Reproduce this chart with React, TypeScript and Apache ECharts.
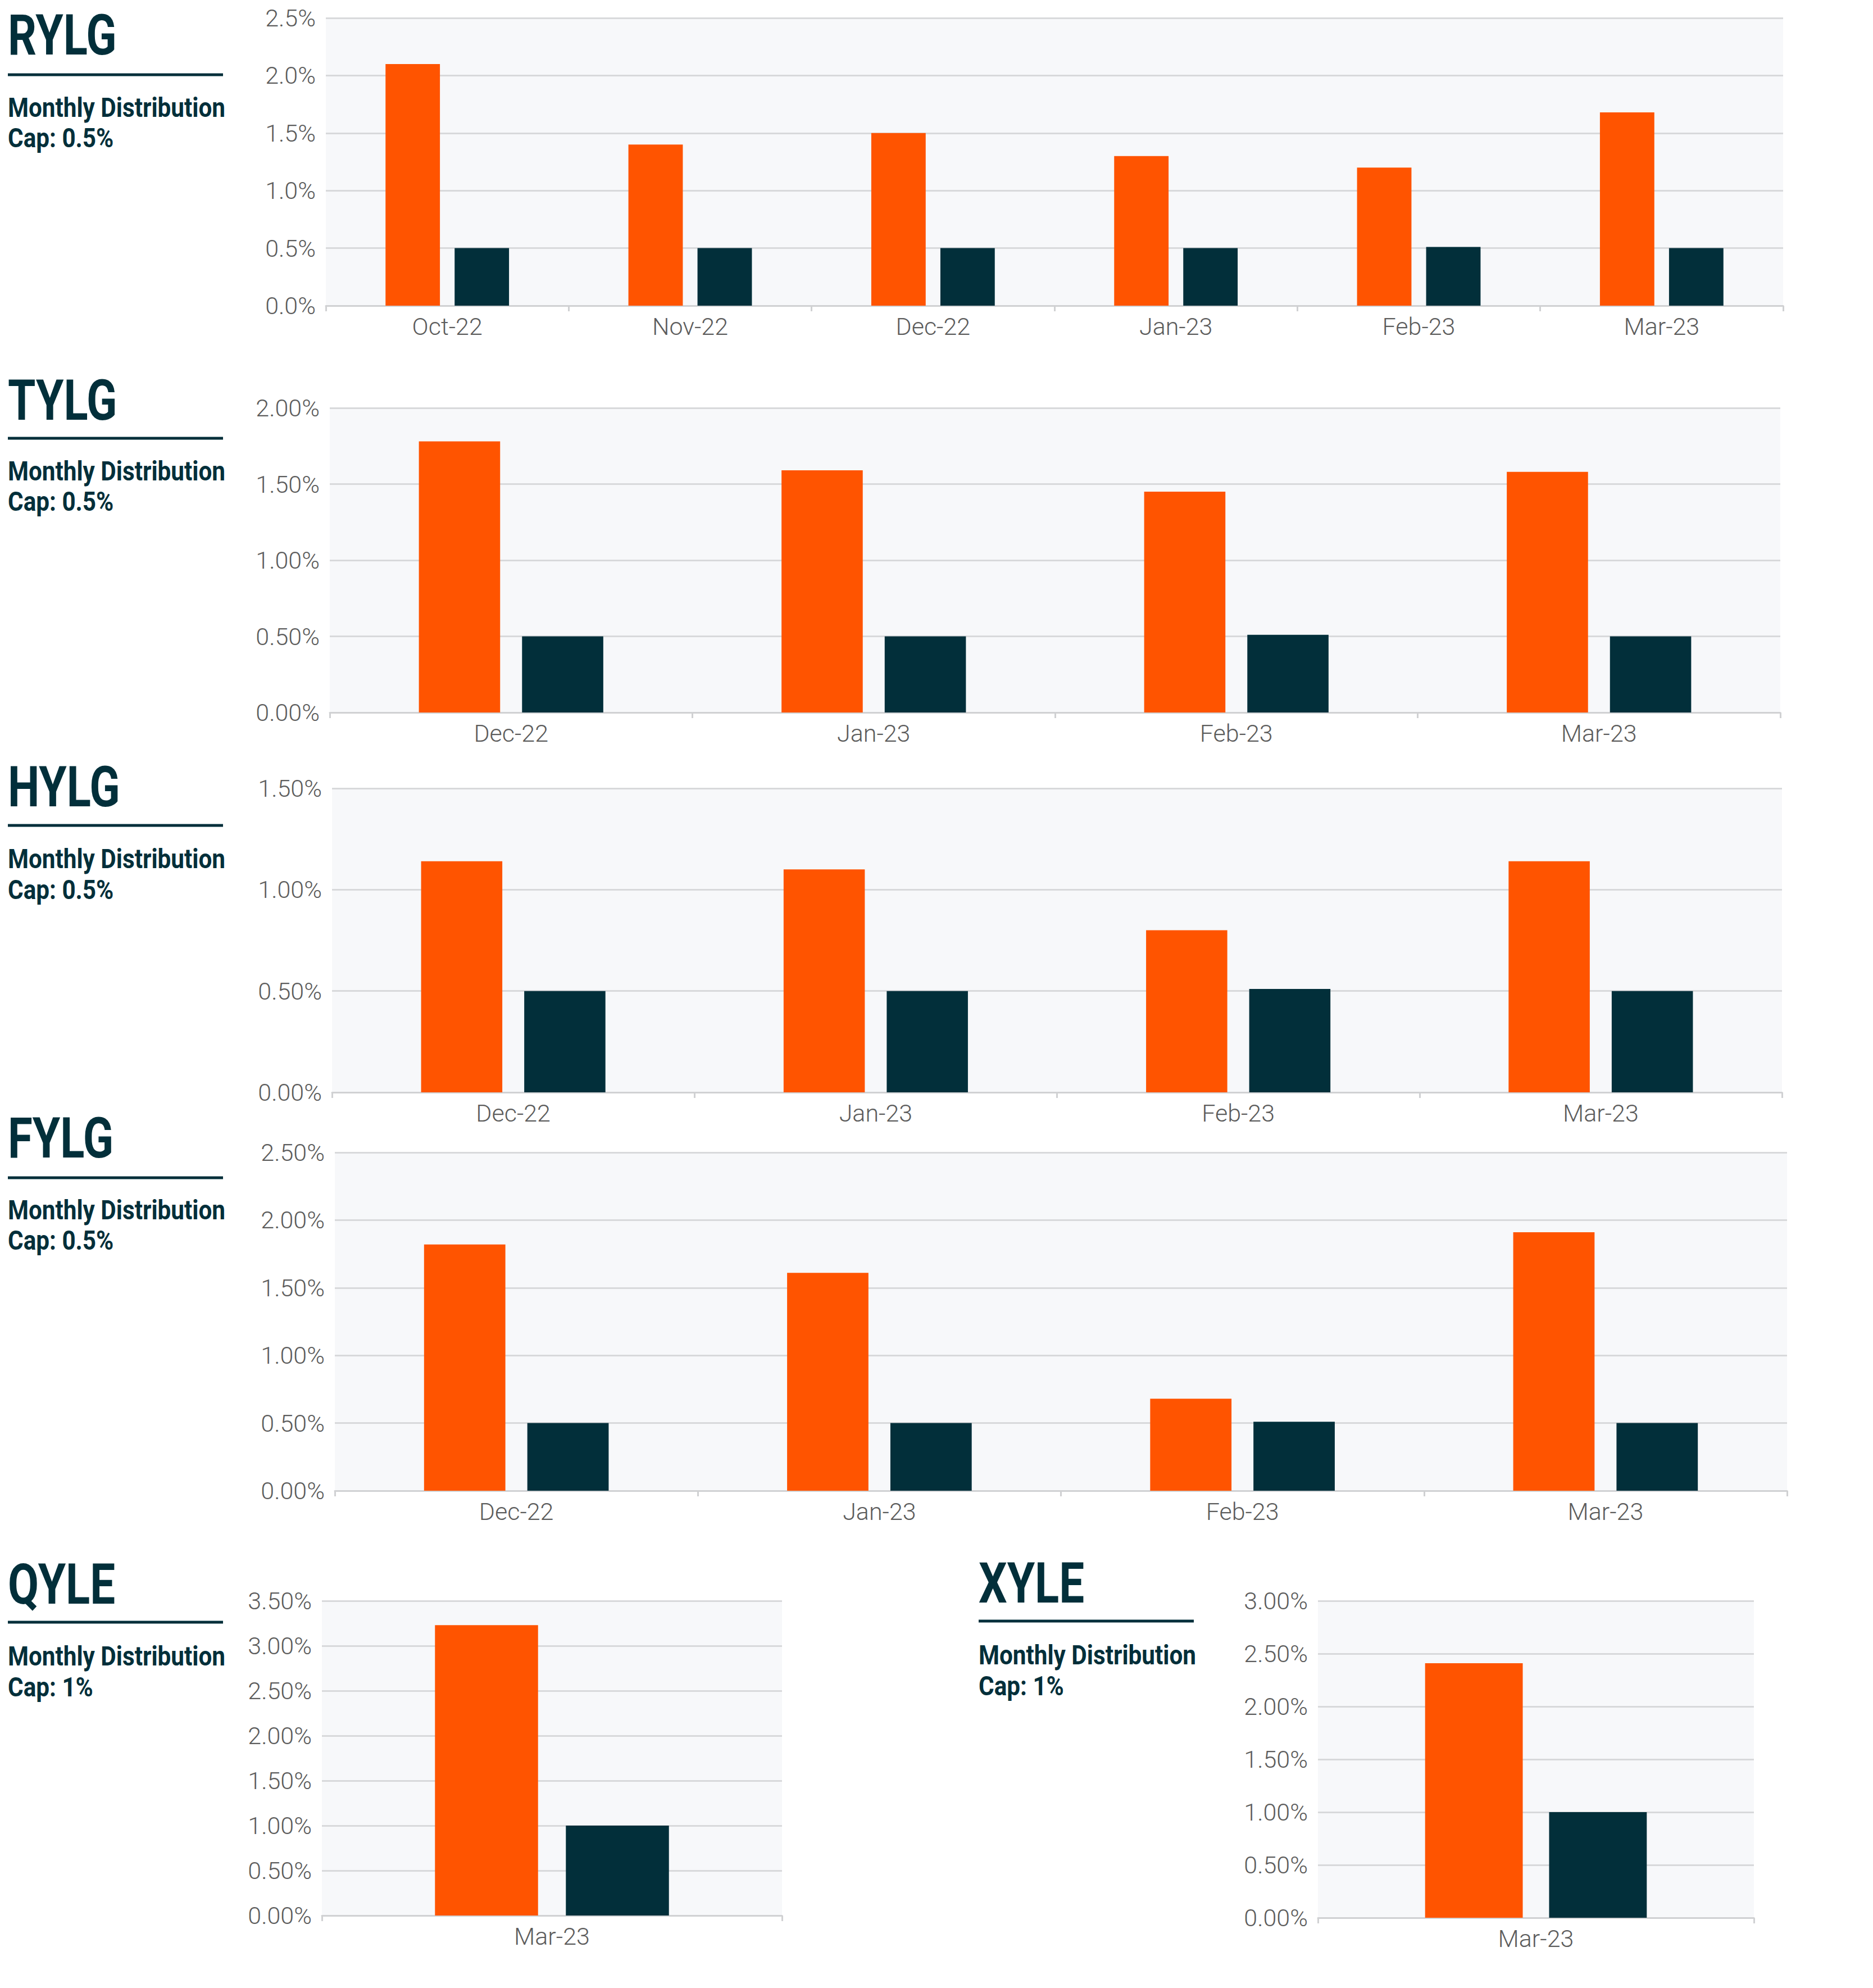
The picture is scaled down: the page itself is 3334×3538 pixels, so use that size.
import React, { useEffect, useRef } from "react";
import * as echarts from "echarts";

// ---------- DATA ----------
const funds = ["RYLG", "TYLG", "HYLG", "FYLG", "QYLE", "XYLE"];
const subtitleLine1 = "Monthly Distribution";
const capLabels = ["Cap: 0.5%", "Cap: 0.5%", "Cap: 0.5%", "Cap: 0.5%", "Cap: 1%", "Cap: 1%"];

const rylgMonths = ["Oct-22", "Nov-22", "Dec-22", "Jan-23", "Feb-23", "Mar-23"];
const rylgDistribution = [2.1, 1.4, 1.5, 1.3, 1.2, 1.68];
const rylgCap = [0.5, 0.5, 0.5, 0.5, 0.51, 0.5];

const tylgMonths = ["Dec-22", "Jan-23", "Feb-23", "Mar-23"];
const tylgDistribution = [1.78, 1.59, 1.45, 1.58];
const tylgCap = [0.5, 0.5, 0.51, 0.5];

const hylgMonths = ["Dec-22", "Jan-23", "Feb-23", "Mar-23"];
const hylgDistribution = [1.14, 1.1, 0.8, 1.14];
const hylgCap = [0.5, 0.5, 0.51, 0.5];

const fylgMonths = ["Dec-22", "Jan-23", "Feb-23", "Mar-23"];
const fylgDistribution = [1.82, 1.61, 0.68, 1.91];
const fylgCap = [0.5, 0.5, 0.51, 0.5];

const qyleMonths = ["Mar-23"];
const qyleDistribution = [3.23];
const qyleCap = [1.0];

const xyleMonths = ["Mar-23"];
const xyleDistribution = [2.41];
const xyleCap = [1.0];

// y-axis tick settings (max, step, decimals of tick labels)
const axisMax = [2.5, 2.0, 1.5, 2.5, 3.5, 3.0];
const axisStep = [0.5, 0.5, 0.5, 0.5, 0.5, 0.5];
const axisDecimals = [1, 2, 2, 2, 2, 2];

const allMonths = [rylgMonths, tylgMonths, hylgMonths, fylgMonths, qyleMonths, xyleMonths];
const allDistribution = [rylgDistribution, tylgDistribution, hylgDistribution, fylgDistribution, qyleDistribution, xyleDistribution];
const allCap = [rylgCap, tylgCap, hylgCap, fylgCap, qyleCap, xyleCap];

// ---------- STYLE / LAYOUT ----------
const ORANGE = "#ff5400";
const DARK = "#022f3a";
const LABEL = "#5c5c5c";
const GRIDLINE = "#d8d9db";
const AXISLINE = "#d0d1d3";
const PLOTBG = "#f7f8fa";
const AXISFONT = "Roboto, 'DejaVu Sans Condensed', sans-serif";
const HEADFONT = "Roboto, 'DejaVu Sans Condensed', sans-serif";

const layout = [
  { grid: { left: 580, top: 32, width: 2594, height: 512 }, tx: 14, titleY: 63, lineY: 133, lineX2: 397, mdY: 192, capY: 246 },
  { grid: { left: 587, top: 726, width: 2582, height: 542 }, tx: 14, titleY: 713, lineY: 780, lineX2: 397, mdY: 839, capY: 893 },
  { grid: { left: 591, top: 1403, width: 2581, height: 541 }, tx: 14, titleY: 1401, lineY: 1469, lineX2: 397, mdY: 1529, capY: 1584 },
  { grid: { left: 596, top: 2051, width: 2585, height: 602 }, tx: 14, titleY: 2026, lineY: 2096, lineX2: 397, mdY: 2154, capY: 2208 },
  { grid: { left: 573, top: 2849, width: 819, height: 560 }, tx: 14, titleY: 2820, lineY: 2887, lineX2: 397, mdY: 2948, capY: 3003 },
  { grid: { left: 2346, top: 2849, width: 776, height: 564 }, tx: 1742, titleY: 2818, lineY: 2885, lineX2: 2125, mdY: 2946, capY: 3001 },
];

const TITLE_SCALE = 0.79;
const SUB_SCALE = 0.88;

function buildOption() {
  const grid: any[] = [];
  const xAxis: any[] = [];
  const yAxis: any[] = [];
  const series: any[] = [];
  const graphic: any[] = [];

  funds.forEach((fund, i) => {
    const L = layout[i];
    grid.push({
      ...L.grid,
      show: true,
      backgroundColor: PLOTBG,
      borderWidth: 0,
      containLabel: false,
    });
    xAxis.push({
      type: "category",
      gridIndex: i,
      data: allMonths[i],
      boundaryGap: true,
      axisLine: { show: true, lineStyle: { color: AXISLINE, width: 3 } },
      axisTick: { show: true, length: 10, lineStyle: { color: AXISLINE, width: 3 } },
      axisLabel: { color: LABEL, fontSize: 43, fontWeight: 300, fontFamily: AXISFONT, margin: 15 },
      splitLine: { show: false },
    });
    const dec = axisDecimals[i];
    yAxis.push({
      type: "value",
      gridIndex: i,
      min: 0,
      max: axisMax[i],
      interval: axisStep[i],
      axisLine: { show: false },
      axisTick: { show: false },
      axisLabel: {
        color: LABEL,
        fontSize: 43,
        fontWeight: 300,
        fontFamily: AXISFONT,
        margin: 18,
        formatter: (v: number) => v.toFixed(dec) + "%",
      },
      splitLine: { show: true, lineStyle: { color: GRIDLINE, width: 3 } },
    });
    series.push({
      name: fund + " Distribution",
      type: "bar",
      xAxisIndex: i,
      yAxisIndex: i,
      data: allDistribution[i],
      barWidth: "22.4%",
      barGap: "27%",
      itemStyle: { color: ORANGE },
      silent: true,
    });
    series.push({
      name: fund + " Cap",
      type: "bar",
      xAxisIndex: i,
      yAxisIndex: i,
      data: allCap[i],
      barWidth: "22.4%",
      barGap: "27%",
      itemStyle: { color: DARK },
      silent: true,
    });

    graphic.push({
      type: "text",
      x: L.tx,
      y: L.titleY,
      scaleX: TITLE_SCALE,
      style: {
        text: fund,
        fill: DARK,
        fontSize: 101,
        fontWeight: "bold",
        fontFamily: HEADFONT,
        textAlign: "left",
        textVerticalAlign: "middle",
      },
    });
    graphic.push({
      type: "line",
      shape: { x1: L.tx, y1: L.lineY, x2: L.lineX2, y2: L.lineY },
      style: { stroke: DARK, lineWidth: 5 },
    });
    graphic.push({
      type: "text",
      x: L.tx,
      y: L.mdY,
      scaleX: SUB_SCALE,
      style: {
        text: subtitleLine1,
        fill: DARK,
        fontSize: 48,
        fontWeight: "bold",
        fontFamily: HEADFONT,
        textAlign: "left",
        textVerticalAlign: "middle",
      },
    });
    graphic.push({
      type: "text",
      x: L.tx,
      y: L.capY,
      scaleX: SUB_SCALE,
      style: {
        text: capLabels[i],
        fill: DARK,
        fontSize: 48,
        fontWeight: "bold",
        fontFamily: HEADFONT,
        textAlign: "left",
        textVerticalAlign: "middle",
      },
    });
  });

  return {
    animation: false,
    backgroundColor: "#ffffff",
    grid,
    xAxis,
    yAxis,
    series,
    graphic,
  };
}

export default function App() {
  const ref = useRef<HTMLDivElement>(null);
  useEffect(() => {
    if (!ref.current) return;
    const chart = echarts.init(ref.current, undefined, { renderer: "svg" });
    chart.setOption(buildOption() as any);
    return () => chart.dispose();
  }, []);
  return (
    <div
      ref={ref}
      style={{ position: "absolute", left: 0, top: 0, width: 3334, height: 3538 }}
    />
  );
}
